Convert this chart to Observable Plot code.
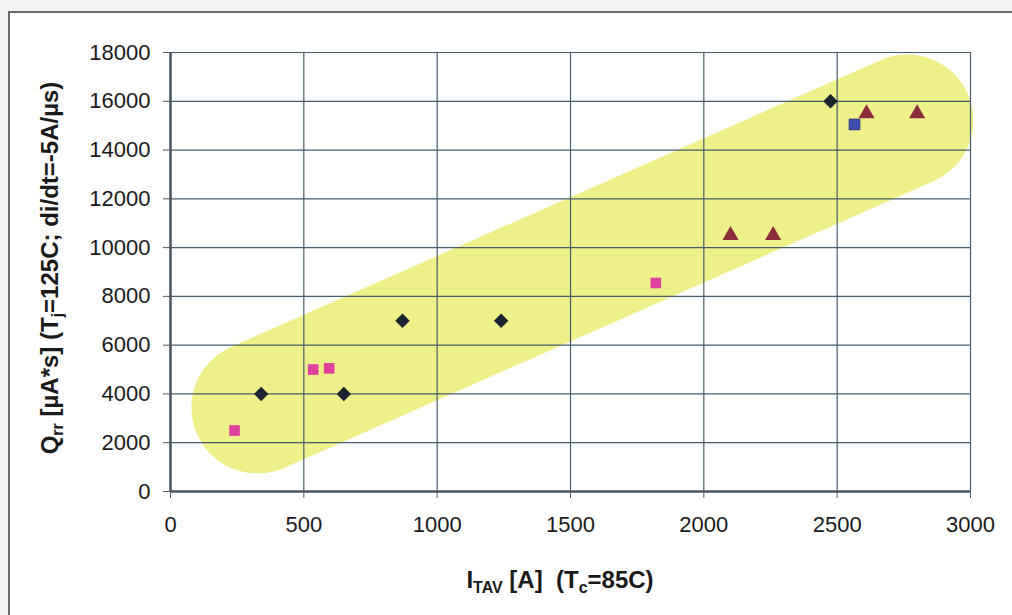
<!DOCTYPE html>
<html><head><meta charset="utf-8">
<script src="https://cdn.jsdelivr.net/npm/d3@7"></script>
<script src="https://cdn.jsdelivr.net/npm/@observablehq/plot@0.6"></script>
<style>
body{margin:0;background:#f2f2f2;width:1012px;height:615px;overflow:hidden;position:relative;font-family:"Liberation Sans",Arial,sans-serif}
#frame{position:absolute;left:8px;top:11px;right:0;bottom:0;background:#fff;border-left:2px solid #6a6a6a;border-top:2px solid #6a6a6a}
#chart{position:absolute;left:0;top:0}
</style></head><body><div id="frame"></div><div id="chart"></div>
<script>
// Data (I_TAV [A], Qrr [µA*s])
const diamondX = [340, 650, 870, 1240, 2475];
const diamondY = [4000, 4000, 7000, 7000, 16000];
const pinkX = [240, 535, 595, 1820];
const pinkY = [2500, 5000, 5050, 8550];
const blueX = [2565];
const blueY = [15050];
const triX = [2100, 2260, 2610, 2800];
const triY = [10500, 10500, 15500, 15500];
// highlight band end points (data units)
const bandX = [326, 2763];
const bandY = [3444, 15211];
const xTicks = [0, 500, 1000, 1500, 2000, 2500, 3000];
const yTicks = [0, 2000, 4000, 6000, 8000, 10000, 12000, 14000, 16000, 18000];

const pts = (xs, ys) => xs.map((x, i) => ({x, y: ys[i]}));
const gridColor = "#465d6d";

const plot = Plot.plot({
  width: 1012, height: 615,
  marginLeft: 170, marginRight: 42, marginTop: 52, marginBottom: 124,
  style: {background: "transparent", fontFamily: '"Liberation Sans", Arial, sans-serif', fontSize: "22px", color: "#1a1a1a"},
  x: {domain: [0, 3000]},
  y: {domain: [0, 18000]},
  marks: [
    Plot.line(pts(bandX, bandY), {x: "x", y: "y", stroke: "#eef08a", strokeWidth: 132, strokeLinecap: "round"}),
    Plot.gridX(xTicks, {stroke: gridColor, strokeOpacity: 1, strokeWidth: 1.2}),
    Plot.gridY(yTicks, {stroke: gridColor, strokeOpacity: 1, strokeWidth: 1.2}),
    Plot.axisX({ticks: xTicks, tickSize: 7, tickPadding: 18, label: null, fontSize: 22, stroke: gridColor, tickFormat: d => String(d)}),
    Plot.axisY({ticks: yTicks, tickSize: 7, tickPadding: 13, label: null, fontSize: 22, stroke: gridColor, tickFormat: d => String(d)}),
    Plot.ruleY([0], {stroke: "#4a5660", strokeWidth: 2.5}),
    Plot.ruleX([0], {stroke: "#4a5660", strokeWidth: 2.5}),
    Plot.dot(pts(diamondX, diamondY), {x: "x", y: "y", symbol: "diamond2", r: 6.5, fill: "#1c2430", stroke: "none"}),
    Plot.dot(pts(pinkX, pinkY), {x: "x", y: "y", symbol: "square", r: 6, fill: "#e0409e", stroke: "none"}),
    Plot.dot(pts(blueX, blueY), {x: "x", y: "y", symbol: "square", r: 6, fill: "#3f4fb0", stroke: "#2a3580", strokeWidth: 1}),
    Plot.dot(pts(triX, triY), {x: "x", y: "y", symbol: "triangle", r: 6, fill: "#8c2d3c", stroke: "none"})
  ]
});
document.getElementById("chart").appendChild(plot);

const svg = d3.select(plot);
// Y axis title
const yt = svg.append("text")
  .attr("transform", "translate(58,268) rotate(-90)")
  .attr("text-anchor", "middle")
  .attr("font-weight", "bold").attr("font-size", 24).attr("fill", "#1a1a1a");
yt.append("tspan").text("Q");
yt.append("tspan").attr("dy", 5).attr("font-size", 16).text("rr");
yt.append("tspan").attr("dy", -5).text(" [µA*s] (T");
yt.append("tspan").attr("dy", 5).attr("font-size", 16).text("j");
yt.append("tspan").attr("dy", -5).text("=125C; di/dt=-5A/µs)");
// X axis title
const xt = svg.append("text")
  .attr("x", 560).attr("y", 588)
  .attr("text-anchor", "middle")
  .attr("font-weight", "bold").attr("font-size", 24).attr("fill", "#1a1a1a")
  .style("white-space", "pre");
xt.append("tspan").text("I");
xt.append("tspan").attr("dy", 5).attr("font-size", 16).text("TAV");
xt.append("tspan").attr("dy", -5).text(" [A]  (T");
xt.append("tspan").attr("dy", 5).attr("font-size", 16).text("c");
xt.append("tspan").attr("dy", -5).text("=85C)");
</script></body></html>
